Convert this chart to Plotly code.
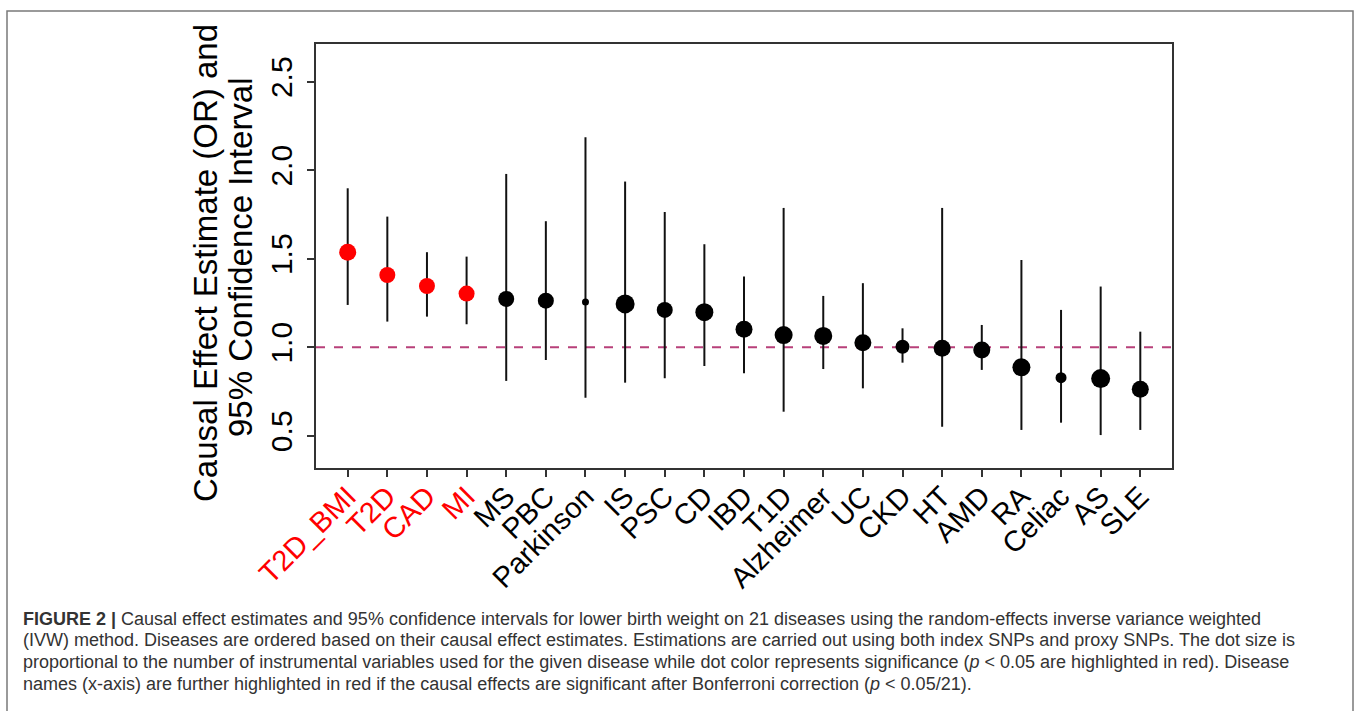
import plotly.graph_objects as go

diseases = ["T2D_BMI", "T2D", "CAD", "MI", "MS", "PBC", "Parkinson", "IS", "PSC", "CD",
            "IBD", "T1D", "Alzheimer", "UC", "CKD", "HT", "AMD", "RA", "Celiac", "AS", "SLE"]
estimate = [1.537, 1.408, 1.346, 1.303, 1.273, 1.263, 1.256, 1.245, 1.211, 1.198,
            1.102, 1.069, 1.064, 1.026, 1.003, 0.994, 0.985, 0.887, 0.828, 0.823, 0.763]
ci_upper = [1.898, 1.738, 1.537, 1.512, 1.979, 1.712, 2.186, 1.936, 1.764, 1.582,
            1.399, 1.787, 1.290, 1.362, 1.107, 1.787, 1.126, 1.493, 1.211, 1.343, 1.088]
ci_lower = [1.239, 1.145, 1.173, 1.130, 0.810, 0.928, 0.715, 0.800, 0.825, 0.894,
            0.853, 0.636, 0.877, 0.768, 0.913, 0.551, 0.872, 0.533, 0.574, 0.504, 0.533]
# dot size ~ number of instrumental variables (read as diameter in px)
n_iv_dot = [17, 16, 16, 16, 16, 16, 7, 19, 16, 18,
            17, 18, 18, 17, 14, 17, 17, 18, 11, 19, 17]
significant = [True, True, True, True] + [False] * 17   # p < 0.05
bonferroni = [True, True, True, True] + [False] * 17    # p < 0.05/21
y_ticks = [0.5, 1.0, 1.5, 2.0, 2.5]

caption_lines = [
    "<b>FIGURE 2 |</b> Causal effect estimates and 95% confidence intervals for lower birth weight on 21 diseases using the random-effects inverse variance weighted",
    "(IVW) method. Diseases are ordered based on their causal effect estimates. Estimations are carried out using both index SNPs and proxy SNPs. The dot size is",
    "proportional to the number of instrumental variables used for the given disease while dot color represents significance (<i>p</i> &lt; 0.05 are highlighted in red). Disease",
    "names (x-axis) are further highlighted in red if the causal effects are significant after Bonferroni correction (<i>p</i> &lt; 0.05/21).",
]

W, H = 1355, 711
L, R, T, B = 316, 1172, 44, 468
pw, ph = R - L, B - T

def px(x):
    return (x - L) / pw

def py(y):
    return (B - y) / ph

xs = list(range(len(diseases)))
err_plus = [u - e for u, e in zip(ci_upper, estimate)]
err_minus = [e - l for e, l in zip(estimate, ci_lower)]
colors = ["#ff0000" if s else "#000000" for s in significant]
ticktext = [f'<span style="color:#ff0000">{d}</span>' if b else d for d, b in zip(diseases, bonferroni)]

fig = go.Figure()
fig.add_trace(go.Scatter(
    x=xs, y=estimate, mode="markers",
    marker=dict(size=n_iv_dot, color=colors, opacity=1, line=dict(width=0)),
    error_y=dict(type="data", symmetric=False, array=err_plus, arrayminus=err_minus,
                 color="#111111", thickness=2, width=0),
    showlegend=False, hoverinfo="skip",
))

font_main = "Liberation Sans, Arial, Helvetica, sans-serif"

fig.add_shape(type="line", xref="paper", yref="y", x0=0, x1=1, y0=1.0, y1=1.0,
              line=dict(color="#b8407a", width=2, dash="dash"), layer="below")

# outer frame
fig.add_shape(type="rect", xref="paper", yref="paper",
              x0=px(7), x1=px(1353), y0=py(730), y1=py(11),
              line=dict(color="#7a7a7a", width=1.5), layer="below")

fig.update_layout(
    width=W, height=H,
    margin=dict(l=L, r=W - R, t=T, b=H - B),
    paper_bgcolor="white", plot_bgcolor="white",
    font=dict(family=font_main, color="#000000"),
    xaxis=dict(range=[-0.8, 20.8], tickvals=xs, ticktext=ticktext, tickangle=-45,
               showline=True, mirror=True, linecolor="#333333", linewidth=2,
               ticks="outside", ticklen=7, tickwidth=1.5, tickcolor="#333333",
               ticklabelstandoff=-9,
               showgrid=False, zeroline=False, tickfont=dict(size=29, family=font_main)),
    yaxis=dict(range=[0.318, 2.713], tickvals=y_ticks, ticktext=[f"{v:.1f}" for v in y_ticks],
               tickangle=-90, ticklabelstandoff=3,
               showline=True, mirror=True, linecolor="#333333", linewidth=2,
               ticks="outside", ticklen=7, tickwidth=1.5, tickcolor="#333333",
               showgrid=False, zeroline=False, tickfont=dict(size=30, family=font_main)),
)

fig.add_annotation(text="Causal Effect Estimate (OR) and", xref="paper", yref="paper",
                   x=px(205), y=py(263), textangle=-90, showarrow=False,
                   xanchor="center", yanchor="middle", font=dict(size=33, family=font_main))
fig.add_annotation(text="95% Confidence Interval", xref="paper", yref="paper",
                   x=px(240), y=py(257), textangle=-90, showarrow=False,
                   xanchor="center", yanchor="middle", font=dict(size=33, family=font_main))

cap_font = "Liberation Sans, Arial, sans-serif"
baselines = [627, 648, 670, 692]
for line, yb in zip(caption_lines, baselines):
    fig.add_annotation(text=line, xref="paper", yref="paper", x=px(21), y=py(yb + 4),
                       xanchor="left", yanchor="bottom", showarrow=False, align="left",
                       font=dict(size=18, family=cap_font, color="#333333"))

fig.write_html("out.html", config={"displayModeBar": False},
               post_script="document.body.style.margin='0';document.body.style.overflow='hidden';")
